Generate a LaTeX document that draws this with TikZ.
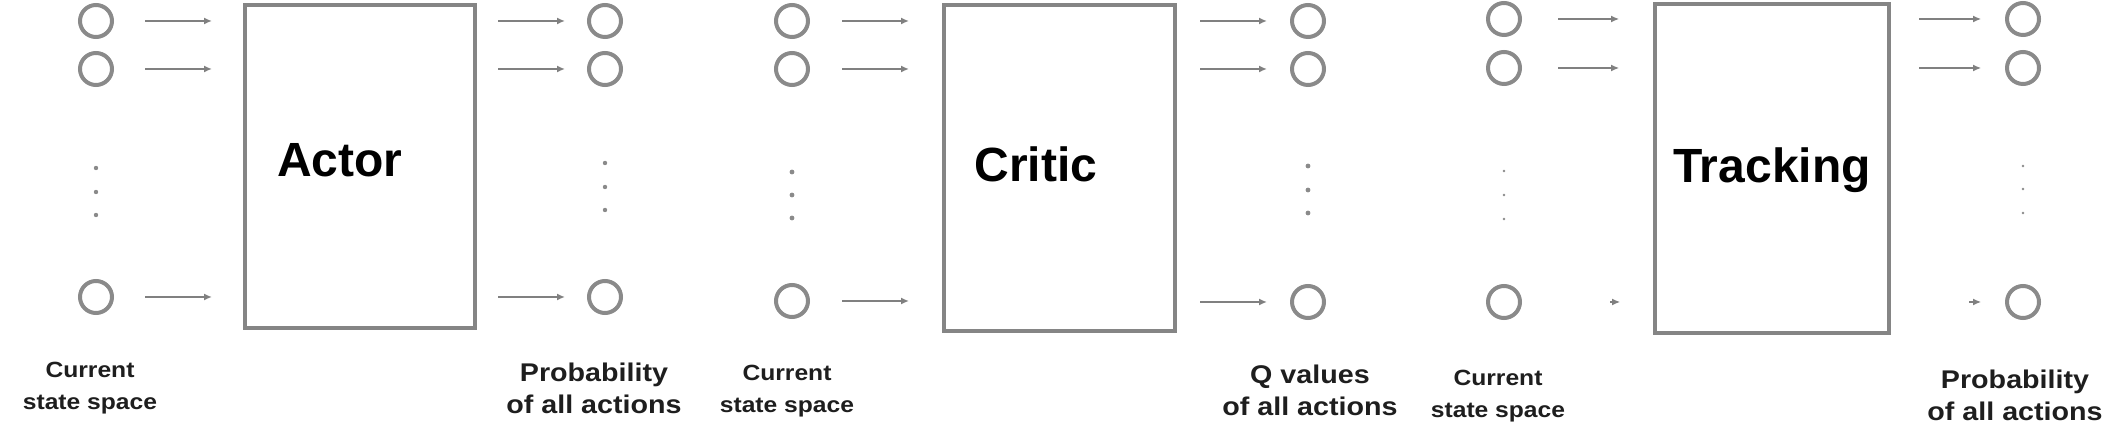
\documentclass[tikz,border=0pt]{standalone}
\usepackage{fontspec}
\setmainfont{Liberation Sans}
\newfontfamily\capfont{Liberation Sans}[FakeStretch=1.12]
\usetikzlibrary{arrows.meta}
\definecolor{ring}{HTML}{8A8A8A}
\definecolor{edge}{HTML}{858585}
\definecolor{arrowc}{HTML}{808080}
\definecolor{txt}{HTML}{1E1E1E}
\begin{document}
\begin{tikzpicture}[x=0.5pt,y=-0.5pt,
 neuron/.style={circle,draw=ring,line width=2pt,minimum size=16pt,inner sep=0pt},
 netbox/.style={draw=edge,line width=2pt,inner sep=0pt},
 title/.style={font=\fontsize{24}{28}\selectfont\bfseries,anchor=base,inner sep=0pt},
 caption/.style={font=\capfont\fontsize{11}{16}\selectfont\bfseries,align=center,text=txt,inner sep=0pt,anchor=north},
 bigcaption/.style={font=\capfont\fontsize{12.8}{16}\selectfont\bfseries,align=center,text=txt,inner sep=0pt,anchor=north},
 arr/.style={draw=arrowc,line width=1pt,-{Latex[length=4pt,width=3.5pt]}},
 thinarr/.style={draw=arrowc,line width=0.6pt,-{Latex[length=4pt,width=3.5pt]}},
 dotc/.style={fill=ring}
]
\useasboundingbox (0,0) rectangle (2122,442);
\fill[white] (0,0) rectangle (2122,442);

% ---------------- Panel 1: Actor ----------------
\node[neuron] (a1) at (96,21) {};
\node[neuron] (a2) at (96,69) {};
\node[neuron] (a3) at (96,297) {};
\foreach \yy in {168,192,215} \fill[dotc] (96,\yy) circle[radius=1.1pt];
\node[netbox,minimum width=115pt,minimum height=161.5pt] (actor) at (360,166.5) {};
\node[title] (actortxt) at (340,177) {Actor};
\node[neuron] (ao1) at (605,21) {};
\node[neuron] (ao2) at (605,69) {};
\node[neuron] (ao3) at (605,297) {};
\foreach \yy in {163,187,210} \fill[dotc] (605,\yy) circle[radius=1.1pt];
\foreach \n in {a1,a2,a3}
  \draw[arr,shorten <=15.5pt,shorten >=15.5pt] (\n.east) -- (\n.east -| actor.west);
\foreach \n in {ao1,ao2,ao3}
  \draw[arr,shorten <=10.5pt,shorten >=11pt] (\n.west -| actor.east) -- (\n.west);
\node[caption] (acin) at (90,362) {Current\\state space};
\node[bigcaption] (acout) at (594,363) {Probability\\of all actions};

% ---------------- Panel 2: Critic ----------------
\node[neuron] (c1) at (792,21) {};
\node[neuron] (c2) at (792,69) {};
\node[neuron] (c3) at (792,301) {};
\foreach \yy in {172,195,218} \fill[dotc] (792,\yy) circle[radius=1.2pt];
\node[netbox,minimum width=115.5pt,minimum height=163pt] (critic) at (1059.5,168) {};
\node[title] (critictxt) at (1036,182) {Critic};
\node[neuron] (co1) at (1308,21) {};
\node[neuron] (co2) at (1308,69) {};
\node[neuron] (co3) at (1308,302) {};
\foreach \yy in {166,190,213} \fill[dotc] (1308,\yy) circle[radius=1.2pt];
\foreach \n in {c1,c2,c3}
  \draw[arr,shorten <=16pt,shorten >=16.5pt] (\n.east) -- (\n.east -| critic.west);
\foreach \n in {co1,co2,co3}
  \draw[arr,shorten <=11.5pt,shorten >=11.5pt] (\n.west -| critic.east) -- (\n.west);
\node[caption] (ccin) at (787,365) {Current\\state space};
\node[bigcaption] (ccout) at (1310,365) {Q values\\of all actions};

% ---------------- Panel 3: Tracking ----------------
\node[neuron] (t1) at (1504,19) {};
\node[neuron] (t2) at (1504,68) {};
\node[neuron] (t3) at (1504,302) {};
\foreach \yy in {171,195,219} \fill[dotc] (1504,\yy) circle[radius=0.7pt];
\node[netbox,minimum width=117pt,minimum height=164.5pt] (track) at (1772,168.5) {};
\node[title] (tracktxt) at (1772,183) {Tracking};
\node[neuron] (to1) at (2023,19) {};
\node[neuron] (to2) at (2023,68) {};
\node[neuron] (to3) at (2023,302) {};
\foreach \yy in {166,189,213} \fill[dotc] (2023,\yy) circle[radius=0.7pt];
\foreach \n in {t1,t2}
  \draw[thinarr,shorten <=18pt,shorten >=17pt] (\n.east) -- (\n.east -| track.west);
\draw[thinarr,shorten <=44pt,shorten >=16.5pt] (t3.east) -- (t3.east -| track.west);
\foreach \n in {to1,to2}
  \draw[thinarr,shorten <=14pt,shorten >=12pt] (\n.west -| track.east) -- (\n.west);
\draw[thinarr,shorten <=39pt,shorten >=12pt] (to3.west -| track.east) -- (to3.west);
\node[caption] (tcin) at (1498,370) {Current\\state space};
\node[bigcaption] (tcout) at (2015,370) {Probability\\of all actions};
\end{tikzpicture}
\end{document}
